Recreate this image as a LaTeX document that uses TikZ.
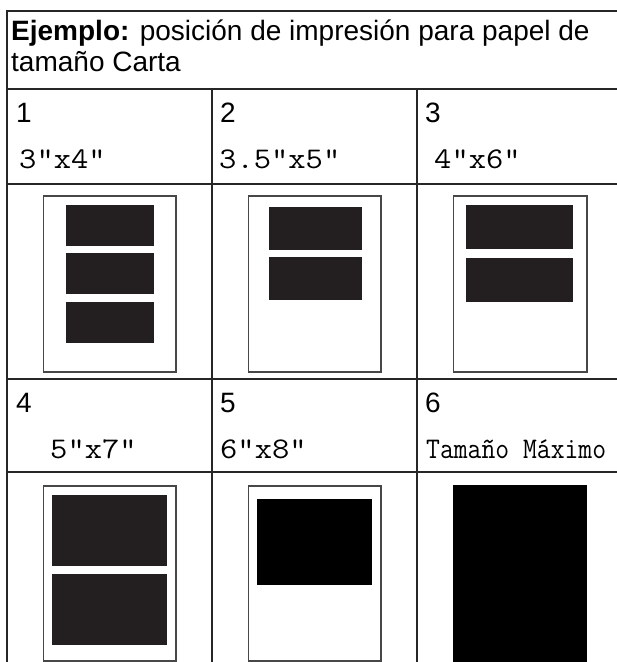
\documentclass[tikz,border=0pt]{standalone}
\usepackage{fontspec}
\setmainfont{Liberation Sans}
\definecolor{photoc}{RGB}{35,31,32}
\begin{document}
\begin{tikzpicture}[x=1pt,y=-1pt,
  grid/.style={line width=1.3pt,draw=black!85},
  paper/.style={draw=black!72,line width=1.5pt,fill=white},
  photo/.style={fill=photoc},
  photob/.style={fill=black},
  lbl/.style={anchor=base west,inner sep=0pt,font=\fontsize{28}{31}\selectfont},
  sz/.style={anchor=base west,inner sep=0pt,xscale=1.12,font=\ttfamily\fontsize{30}{31}\selectfont}]
\useasboundingbox (0,0) rectangle (617,662);
% grid
\draw[grid] (622,11) -- (7,11) -- (7,662);
\draw[grid] (7,89) -- (622,89);
\draw[grid] (7,184) -- (622,184);
\draw[grid] (7,379) -- (622,379);
\draw[grid] (7,472) -- (622,472);
\draw[grid] (212,89) -- (212,662);
\draw[grid] (417,89) -- (417,662);
% header
\node[lbl] (h1) at (11,40) {\textbf{Ejemplo:} posición de impresión para papel de};
\node[lbl] (h2) at (11,71) {tamaño Carta};
% labels
\node[lbl] (n1) at (16,122) {1};
\node[lbl] (n2) at (220,122) {2};
\node[lbl] (n3) at (425,122) {3};
\node[lbl] (n4) at (16,412) {4};
\node[lbl] (n5) at (220,412) {5};
\node[lbl] (n6) at (425,412) {6};
\node[sz] (s1) at (19,168) {3"x4"};
\node[sz] (s2) at (219,168) {3.5"x5"};
\node[sz] (s3) at (434,168) {4"x6"};
\node[sz] (s4) at (50,458) {5"x7"};
\node[sz] (s5) at (220,458) {6"x8"};
\node[sz,xscale=0.8] (s6) at (426,458) {Tamaño Máximo};
% row 1 pictures
\draw[paper] (43.5,196) rectangle (176,372);
\fill[photo] (66,205) rectangle (154,246);
\fill[photo] (66,253) rectangle (154,294);
\fill[photo] (66,302) rectangle (154,343);
\draw[paper] (248.5,196) rectangle (381,372);
\fill[photo] (269,207) rectangle (362,250);
\fill[photo] (269,257) rectangle (362,300);
\draw[paper] (453.5,196) rectangle (587,372);
\fill[photo] (466,205) rectangle (573,249);
\fill[photo] (466,258) rectangle (573,302);
% row 2 pictures
\draw[paper] (43.5,486) rectangle (176,661);
\fill[photo] (52,495) rectangle (167,566);
\fill[photo] (52,574) rectangle (167,645);
\draw[paper] (248.5,486) rectangle (381,661);
\fill[photob] (257,499) rectangle (372,585);
\fill[photob] (453,485) rectangle (587,662);
\end{tikzpicture}
\end{document}
